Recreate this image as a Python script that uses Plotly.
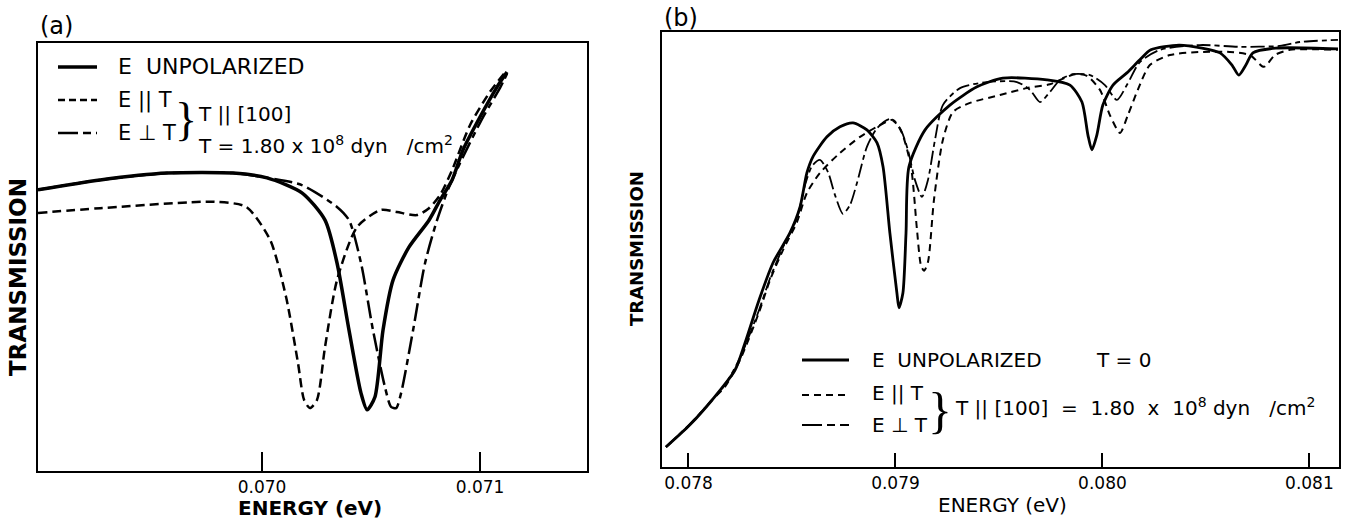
import plotly.graph_objects as go

# ---------------- data : panel (a) ----------------
a_solid_E = [0.068972, 0.069257, 0.069564, 0.069867, 0.070023, 0.070183, 0.070289, 0.070344,
             0.070399, 0.070454, 0.070482, 0.070518, 0.070555, 0.070601, 0.070674, 0.070766,
             0.070817, 0.070872, 0.070922, 0.071000, 0.071078, 0.071124]
a_solid_T = [0.657, 0.680, 0.696, 0.696, 0.685, 0.650, 0.586, 0.486,
             0.329, 0.182, 0.143, 0.173, 0.329, 0.446, 0.523, 0.586,
             0.633, 0.680, 0.750, 0.827, 0.897, 0.932]

a_par_E = [0.068972, 0.069257, 0.069780, 0.069927, 0.070037, 0.070110, 0.070165, 0.070193,
           0.070220, 0.070252, 0.070289, 0.070344, 0.070436, 0.070546, 0.070619, 0.070711,
           0.070766, 0.070817, 0.070872, 0.070954, 0.071046, 0.071124]
a_par_T = [0.603, 0.614, 0.629, 0.617, 0.540, 0.407, 0.252, 0.166,
           0.147, 0.166, 0.290, 0.446, 0.570, 0.610, 0.605, 0.598,
           0.614, 0.645, 0.703, 0.808, 0.886, 0.937]

a_perp_E = [0.068972, 0.069257, 0.069564, 0.069867, 0.070023, 0.070183, 0.070344, 0.070399,
            0.070454, 0.070509, 0.070564, 0.070592, 0.070615, 0.070638, 0.070693, 0.070748,
            0.070803, 0.070853, 0.070922, 0.071014, 0.071092, 0.071124]
a_perp_T = [0.657, 0.680, 0.696, 0.696, 0.685, 0.668, 0.617, 0.586,
            0.486, 0.329, 0.196, 0.150, 0.147, 0.182, 0.329, 0.486,
            0.586, 0.657, 0.734, 0.827, 0.895, 0.928]

# ---------------- data : panel (b) ----------------
b_solid_E = [0.077891, 0.078007, 0.078114, 0.078225, 0.078273, 0.078341, 0.078408, 0.078490,
             0.078539, 0.078572, 0.078601, 0.078669, 0.078732, 0.078795, 0.078862, 0.078911,
             0.078940, 0.078973, 0.079007, 0.079017, 0.079036, 0.079051, 0.079065, 0.079143,
             0.079263, 0.079394, 0.079519, 0.079732, 0.079843, 0.079901, 0.079930, 0.079949,
             0.079973, 0.080002, 0.080051, 0.080118, 0.080181, 0.080234, 0.080370, 0.080481,
             0.080568, 0.080626, 0.080659, 0.080693, 0.080727, 0.080838, 0.081138]
b_solid_T = [0.046, 0.097, 0.154, 0.223, 0.285, 0.384, 0.469, 0.538,
             0.598, 0.676, 0.713, 0.759, 0.782, 0.791, 0.775, 0.745,
             0.690, 0.538, 0.400, 0.366, 0.400, 0.538, 0.690, 0.775,
             0.832, 0.874, 0.894, 0.890, 0.878, 0.839, 0.763, 0.729,
             0.763, 0.832, 0.878, 0.906, 0.936, 0.959, 0.970, 0.963,
             0.952, 0.924, 0.901, 0.924, 0.952, 0.963, 0.961]

b_par_E = [0.077891, 0.078007, 0.078114, 0.078176, 0.078249, 0.078341, 0.078394, 0.078457,
           0.078524, 0.078572, 0.078635, 0.078732, 0.078829, 0.078911, 0.078988, 0.079031,
           0.079075, 0.079104, 0.079123, 0.079138, 0.079157, 0.079186, 0.079229, 0.079278,
           0.079360, 0.079505, 0.079635, 0.079746, 0.079867, 0.079925, 0.079988, 0.080036,
           0.080085, 0.080123, 0.080171, 0.080229, 0.080326, 0.080471, 0.080616, 0.080713,
           0.080780, 0.080833, 0.080906, 0.081138]
b_par_T = [0.046, 0.097, 0.154, 0.184, 0.246, 0.356, 0.430, 0.499,
           0.563, 0.630, 0.676, 0.722, 0.759, 0.782, 0.798, 0.768,
           0.690, 0.545, 0.464, 0.451, 0.471, 0.614, 0.752, 0.816,
           0.837, 0.855, 0.871, 0.880, 0.903, 0.899, 0.867, 0.809,
           0.768, 0.809, 0.867, 0.924, 0.947, 0.954, 0.954, 0.947,
           0.920, 0.947, 0.959, 0.959]

b_perp_E = [0.077891, 0.078007, 0.078114, 0.078176, 0.078249, 0.078341, 0.078394, 0.078457,
            0.078524, 0.078563, 0.078597, 0.078635, 0.078674, 0.078708, 0.078746, 0.078780,
            0.078814, 0.078862, 0.078911, 0.078973, 0.079022, 0.079060, 0.079094, 0.079128,
            0.079157, 0.079191, 0.079229, 0.079312, 0.079442, 0.079587, 0.079650, 0.079698,
            0.079746, 0.079795, 0.079857, 0.079940, 0.080012, 0.080070, 0.080118, 0.080181,
            0.080278, 0.080471, 0.080664, 0.080857, 0.080954, 0.081138]
b_perp_T = [0.046, 0.099, 0.154, 0.189, 0.251, 0.361, 0.434, 0.506,
            0.572, 0.648, 0.692, 0.706, 0.678, 0.625, 0.582, 0.602,
            0.653, 0.736, 0.779, 0.800, 0.779, 0.729, 0.660, 0.621,
            0.660, 0.752, 0.832, 0.871, 0.885, 0.885, 0.867, 0.839,
            0.862, 0.890, 0.903, 0.901, 0.878, 0.844, 0.878, 0.931,
            0.959, 0.970, 0.966, 0.968, 0.977, 0.982]

a_tickvals = [0.070, 0.071]
a_ticktext = ["0.070", "0.071"]
b_tickvals = [0.078, 0.079, 0.080, 0.081]
b_ticktext = ["0.078", "0.079", "0.080", "0.081"]

# ---------------- figure ----------------
W, H = 1346, 522
FONT = "DejaVu Sans"
BRACE_FONT = "Liberation Serif"
NB = "\u00a0"


def px(x):
    return x / W


def py(y):
    return 1 - y / H


fig = go.Figure()

SPL = dict(shape="spline", smoothing=0.7)
fig.add_trace(go.Scatter(x=a_solid_E, y=a_solid_T, mode="lines", xaxis="x", yaxis="y",
                         line=dict(color="black", width=3.5, **SPL), showlegend=False))
fig.add_trace(go.Scatter(x=a_par_E, y=a_par_T, mode="lines", xaxis="x", yaxis="y",
                         line=dict(color="black", width=2.5, dash="9px,5px", **SPL), showlegend=False))
fig.add_trace(go.Scatter(x=a_perp_E, y=a_perp_T, mode="lines", xaxis="x", yaxis="y",
                         line=dict(color="black", width=2.5, dash="18px,5px,6px,5px", **SPL), showlegend=False))

fig.add_trace(go.Scatter(x=b_solid_E, y=b_solid_T, mode="lines", xaxis="x2", yaxis="y2",
                         line=dict(color="black", width=2.8, **SPL), showlegend=False))
fig.add_trace(go.Scatter(x=b_par_E, y=b_par_T, mode="lines", xaxis="x2", yaxis="y2",
                         line=dict(color="black", width=2.0, dash="7px,5px", **SPL), showlegend=False))
fig.add_trace(go.Scatter(x=b_perp_E, y=b_perp_T, mode="lines", xaxis="x2", yaxis="y2",
                         line=dict(color="black", width=1.8, dash="14px,4px,5px,4px", **SPL), showlegend=False))

axis_common = dict(showgrid=False, zeroline=False, showline=True, mirror=True,
                   linecolor="black", linewidth=1.5)

fig.update_layout(
    width=W, height=H, margin=dict(l=0, r=0, t=0, b=0),
    paper_bgcolor="white", plot_bgcolor="white",
    font=dict(family=FONT, color="black"),
    xaxis=dict(domain=[px(38), px(587)], range=[0.068972, 0.071491], anchor="y",
               tickvals=a_tickvals, ticktext=a_ticktext, ticks="inside", ticklen=19,
               tickwidth=1.5, tickcolor="black", tickfont=dict(size=17, family=FONT), **axis_common),
    yaxis=dict(domain=[py(471), py(43)], range=[0, 1], anchor="x",
               showticklabels=False, ticks="", **axis_common),
    xaxis2=dict(domain=[px(662), px(1339)], range=[0.077872, 0.081143], anchor="y2",
                tickvals=b_tickvals, ticktext=b_ticktext, ticks="inside", ticklen=14,
                tickwidth=1.5, tickcolor="black", tickfont=dict(size=17, family=FONT), **axis_common),
    yaxis2=dict(domain=[py(467), py(32)], range=[0, 1], anchor="x2",
                showticklabels=False, ticks="", **axis_common),
)

ann = []


def text(x, y, s, size, xanchor="left", bold=False, angle=0, family=FONT):
    ann.append(dict(x=px(x), y=py(y), xref="paper", yref="paper", text=s, showarrow=False,
                    xanchor=xanchor, yanchor="middle", textangle=angle,
                    font=dict(size=size, family=family, color="black",
                              weight="bold" if bold else "normal")))


# panel labels
text(56, 26, "(a)", 24, xanchor="center")
text(681, 18, "(b)", 24, xanchor="center")

# axis titles
text(310, 508, "ENERGY (eV)", 20, xanchor="center", bold=True)
text(1002, 505, "ENERGY (eV)", 20, xanchor="center")
text(18, 277, "TRANSMISSION", 23, xanchor="center", bold=True, angle=-90)
text(636, 249, "TRANSMISSION", 18, xanchor="center", bold=True, angle=-90)

# legend (a)
text(116, 67, "E" + NB * 2 + "UNPOLARIZED", 22)
text(116, 100, "E || T", 21)
text(116, 133, "E ⊥ T", 21)
text(186, 119, "}", 46, xanchor="center", family=BRACE_FONT)
text(196, 114, "T || [100]", 20)
text(196, 145, "T = 1.80 x 10<sup>8</sup> dyn" + NB * 3 + "/cm<sup>2</sup>", 20)

# legend (b)
text(870, 360, "E" + NB * 2 + "UNPOLARIZED", 20)
text(1094, 360, "T = 0", 20)
text(870, 393, "E || T", 20)
text(870, 425, "E ⊥ T", 20)
text(940, 410, "}", 50, xanchor="center", family=BRACE_FONT)
text(953, 407, "T || [100]" + NB + " = " + NB + "1.80" + NB + " x " + NB + "10<sup>8</sup> dyn" + NB * 3
     + "/cm<sup>2</sup>", 20)

fig.update_layout(annotations=ann)

# legend line samples
shapes = []


def sample(x0, x1, y, width, dash=None):
    ln = dict(color="black", width=width)
    if dash:
        ln["dash"] = dash
    shapes.append(dict(type="line", xref="paper", yref="paper", x0=px(x0), x1=px(x1),
                       y0=py(y), y1=py(y), line=ln))


sample(58, 97, 67, 3.5)
sample(58, 97, 100, 2.5, "7px,4px")
sample(58, 97, 133, 2.5, "20px,5px,8px,5px")
sample(802, 849, 360, 3.0)
sample(802, 849, 395, 2.0, "7px,5px")
sample(802, 849, 425, 2.0, "20px,5px,8px,5px")

fig.update_layout(shapes=shapes)

fig.write_html("out.html")
